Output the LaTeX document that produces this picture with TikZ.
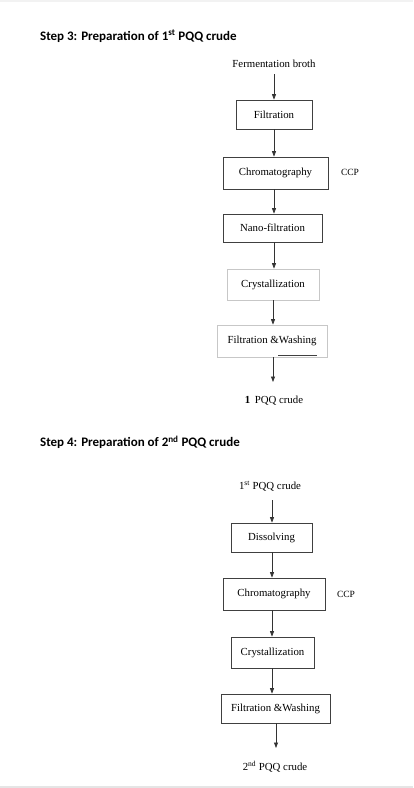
\documentclass[tikz,border=0pt]{standalone}
\usepackage{fontspec}
\setmainfont{Liberation Serif}
\newfontfamily\titlefont{Carlito}
\usetikzlibrary{arrows.meta}
\tikzset{
  stepbox/.style={draw=black!75, line width=0.7pt, inner sep=0pt, font=\fontsize{10.8}{12}\selectfont},
  lightbox/.style={draw=black!22, line width=0.7pt, inner sep=0pt, font=\fontsize{10.8}{12}\selectfont},
  plain/.style={inner sep=0pt, font=\fontsize{10.8}{12}\selectfont},
  ttl/.style={inner sep=0pt, anchor=west, font=\titlefont\bfseries\fontsize{13}{15}\selectfont},
  flow/.style={draw=black!80, line width=0.7pt, -{Triangle[length=5.5pt,width=4pt]}},
}
\begin{document}
\begin{tikzpicture}[x=1pt,y=-1pt]
\useasboundingbox (0,0) rectangle (413,788);
\fill[white] (0,0) rectangle (413,788);
\fill[black!10] (0,785.5) rectangle (413,788);
\fill[black!5] (0,0) rectangle (413,1.5);

% Step 3
\node[ttl] (t3) at (40,36) {Step 3: Preparation of 1\textsuperscript{st} PQQ crude};
\node[plain] (fb) at (274,64) {Fermentation broth};
\node[stepbox, minimum width=76pt, minimum height=29pt] (f1) at (274,114.5) {Filtration};
\node[stepbox, minimum width=105pt, minimum height=32pt] (c1) at (275.5,173) {Chromatography};
\node[plain, font=\fontsize{9.5}{11}\selectfont] (ccp1) at (350,172) {CCP};
\node[stepbox, minimum width=99pt, minimum height=28pt] (n1) at (272.5,228) {Nano-filtration};
\node[lightbox, minimum width=92pt, minimum height=31pt] (cr1) at (273,284.5) {Crystallization};
\node[lightbox, minimum width=110pt, minimum height=32pt] (fw1) at (272,341) {Filtration \&Washing};
\draw[black!75, line width=0.7pt] (278,355.5) -- (317,355.5);
\coordinate (e1) at (273,382);
\node[plain] (o1) at (274,401) {\textbf{1}\, PQQ crude};

\draw[flow] (274,74) -- (f1.north -| 274,0);
\draw[flow] (f1.south -| 274,0) -- (c1.north -| 274,0);
\draw[flow] (c1.south -| 274,0) -- (n1.north -| 274,0);
\draw[flow] (n1.south -| 274,0) -- (cr1.north -| 274,0);
\draw[flow] (cr1.south -| 273,0) -- (fw1.north -| 273,0);
\draw[flow] (fw1.south -| 273,0) -- (e1);

% Step 4
\node[ttl] (t4) at (40,442) {Step 4: Preparation of 2\textsuperscript{nd} PQQ crude};
\node[plain] (i2) at (270,486) {1\textsuperscript{st} PQQ crude};
\node[stepbox, minimum width=81pt, minimum height=29pt] (d2) at (271.5,537.5) {Dissolving};
\node[stepbox, minimum width=102pt, minimum height=32pt] (c2) at (274,594) {Chromatography};
\node[plain, font=\fontsize{9.5}{11}\selectfont] (ccp2) at (346,594) {CCP};
\node[stepbox, minimum width=83pt, minimum height=31pt] (cr2) at (272.5,652.5) {Crystallization};
\node[stepbox, minimum width=109pt, minimum height=29pt] (fw2) at (275.5,708.5) {Filtration \&Washing};
\coordinate (e2) at (276,748);
\node[plain] (o2) at (275,767) {2\textsuperscript{nd} PQQ crude};

\draw[flow] (272,500) -- (d2.north -| 272,0);
\draw[flow] (d2.south -| 272,0) -- (c2.north -| 272,0);
\draw[flow] (c2.south -| 272,0) -- (cr2.north -| 272,0);
\draw[flow] (cr2.south -| 272,0) -- (fw2.north -| 272,0);
\draw[flow] (fw2.south -| 276,0) -- (e2);
\end{tikzpicture}
\end{document}
